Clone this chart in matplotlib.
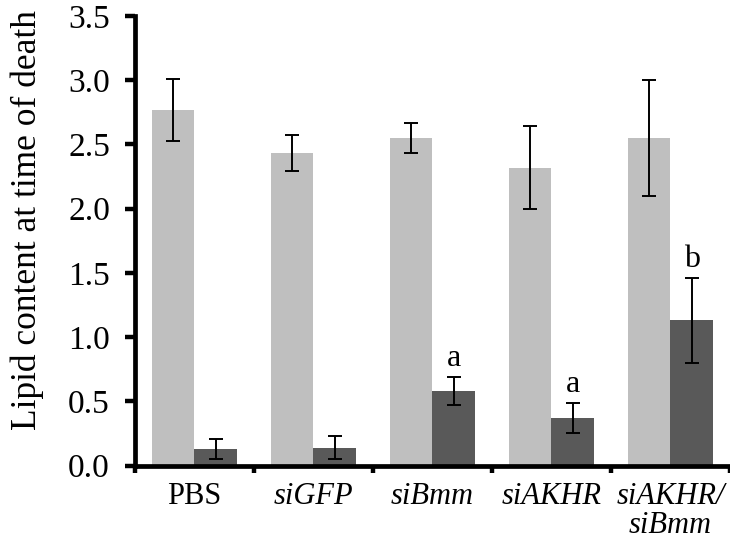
import matplotlib
matplotlib.use('Agg')
import matplotlib.pyplot as plt
import numpy as np

groups = ['PBS', 'siGFP', 'siBmm', 'siAKHR', 'siAKHR/\nsiBmm']
italic = [False, True, True, True, True]
light_vals = [2.77, 2.43, 2.55, 2.32, 2.55]
light_err = [0.24, 0.14, 0.12, 0.32, 0.45]
dark_vals = [0.13, 0.14, 0.58, 0.37, 1.13]
dark_err = [0.08, 0.09, 0.11, 0.12, 0.33]
letters = ['', '', 'a', 'a', 'b']

plt.rcParams['font.family'] = ['Liberation Serif', 'DejaVu Serif']

fig = plt.figure(figsize=(7.3, 5.42), dpi=100)
ax = fig.add_axes([0.1849, 0.1411, 0.815, 0.8294])

x = np.arange(len(groups))
w = 0.36
err_kw = dict(ecolor='black', elinewidth=1.4, capsize=4.7, capthick=1.4)
ax.bar(x - w / 2, light_vals, w, yerr=light_err, color='#bfbfbf', error_kw=err_kw, zorder=2)
ax.bar(x + w / 2, dark_vals, w, yerr=dark_err, color='#595959', error_kw=err_kw, zorder=2)

for i, lab in enumerate(letters):
    if lab:
        ax.text(x[i] + w / 2, dark_vals[i] + dark_err[i] + 0.03, lab,
                ha='center', va='bottom', fontsize=23)

ax.set_xlim(-0.5, 4.458)
ax.set_ylim(0, 3.5)
ax.set_yticks(np.arange(0, 3.51, 0.5))
ax.set_yticklabels([f'{v:.1f}' for v in np.arange(0, 3.51, 0.5)], fontsize=24)

ax.set_xticks(x)
ax.set_xticklabels(groups, fontsize=22, linespacing=1.0, va='top')
for lbl, it in zip(ax.get_xticklabels(), italic):
    if it:
        lbl.set_fontstyle('italic')
ax.tick_params(axis='x', which='major', length=0, pad=12)
ax.set_xticks(np.arange(-0.5, 5, 1), minor=True)
ax.tick_params(axis='x', which='minor', length=5, width=3.2, direction='out')
ax.tick_params(axis='y', length=7, width=3.2, direction='out', pad=11)

for s in ['top', 'right']:
    ax.spines[s].set_visible(False)
for s in ['left', 'bottom']:
    ax.spines[s].set_linewidth(3.4)

fig.text(0.037, 0.594, 'Lipid content at time of death', rotation=90,
         ha='center', va='center', fontsize=25.5)

fig.savefig('out.png', dpi=100)
